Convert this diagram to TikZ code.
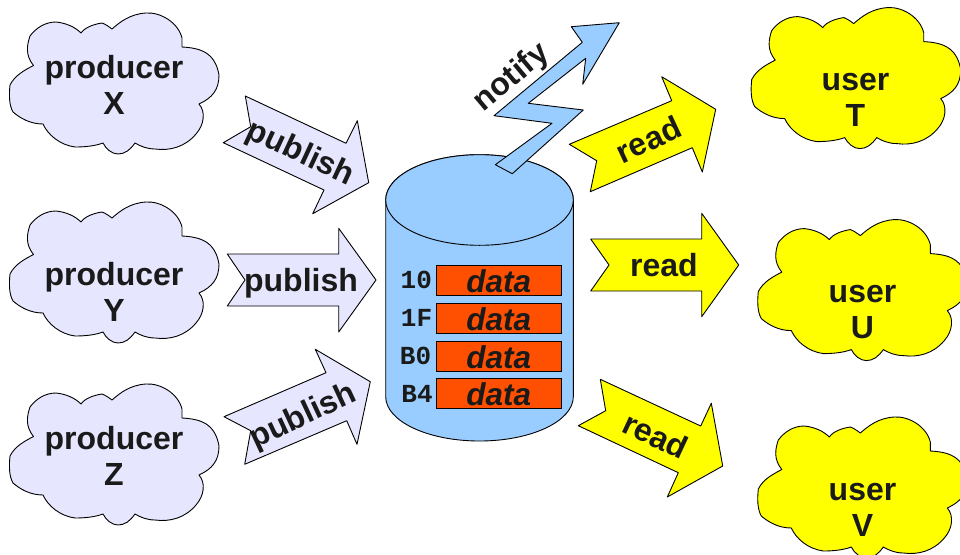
\documentclass[tikz,border=0pt]{standalone}
\usepackage{fontspec}
\setmainfont{Liberation Sans}
\setmonofont{Liberation Mono}
\usepackage{tikz}

\definecolor{prodblue}{HTML}{E6E6FF}
\definecolor{storeblue}{HTML}{99CCFF}
\definecolor{datared}{HTML}{FF4F00}
\definecolor{useryellow}{HTML}{FFFF00}
\definecolor{inkdark}{HTML}{1A1A1A}

\tikzset{
  prodshape/.style={draw=black,fill=prodblue,line width=0.9pt,line join=round},
  usershape/.style={draw=black,fill=useryellow,line width=0.9pt,line join=round},
  storeshape/.style={draw=black,fill=storeblue,line width=0.9pt,line join=round},
  bigtext/.style={text=inkdark,font=\fontsize{32}{36}\selectfont\bfseries,align=center,inner sep=0pt},
  keytext/.style={text=inkdark,font=\fontsize{26}{28}\selectfont\ttfamily\bfseries,inner sep=0pt},
  datatext/.style={text=inkdark,font=\fontsize{31.5}{36}\selectfont\bfseries\itshape,inner sep=0pt},
  databox/.style={draw=black,fill=datared,line width=0.9pt,minimum width=124.7pt,minimum height=30pt,inner sep=0pt},
}

\newcommand{\cloudoutline}{
  (33.5,65.5) .. controls (25,55) and (27,45) .. (30,36) .. controls (36,28) and (45,22) .. (56,22)
  .. controls (66,23) and (75,27) .. (81,33) .. controls (85,27) and (95,24) .. (102,23)
  .. controls (105,24) and (108,26) .. (112,29) .. controls (120,22) and (130,14) .. (146,13)
  .. controls (160,12) and (178,22) .. (182,38) .. controls (182,41) and (182,44) .. (182,47)
  .. controls (200,48) and (215,52) .. (219,75) .. controls (219,90) and (212,98) .. (199,104)
  .. controls (206,112) and (204,125) .. (196,134) .. controls (185,147) and (170,151) .. (155,149)
  .. controls (147,149) and (140,146) .. (135,143) .. controls (130,150) and (125,154) .. (118,154)
  .. controls (112,154) and (106,149) .. (103,143) .. controls (95,146) and (85,147) .. (75,147)
  .. controls (60,145) and (48,135) .. (43,124) .. controls (30,124) and (20,118) .. (13,112)
  .. controls (9,105) and (9,95) .. (10,85) .. controls (15,75) and (25,70) .. (33.5,65.5) -- cycle
}

\begin{document}
\begin{tikzpicture}[x=1pt,y=-1pt]
\useasboundingbox (0,0) rectangle (960,554);

% clouds
\draw[prodshape] \cloudoutline;
\draw[prodshape,shift={(0,189)}] \cloudoutline;
\draw[prodshape,shift={(0,371)}] \cloudoutline;
\draw[usershape,shift={(741.7,-5.4)}] \cloudoutline;
\draw[usershape,shift={(748.3,206.6)}] \cloudoutline;
\draw[usershape,shift={(748.3,404)}] \cloudoutline;

\node at (114,84.5) [bigtext] (prodx) {producer\\X};
\node at (114,291.5) [bigtext] (prody) {producer\\Y};
\node at (114,455.5) [bigtext] (prodz) {producer\\Z};
\node at (855.5,99.5) [bigtext] (usert) {user\\T};
\node at (862.5,312.5) [bigtext] (useru) {user\\U};
\node at (862.5,509.5) [bigtext] (userv) {user\\V};

% publish arrows
\draw[prodshape] (245.3,96) -- (346,143.3) -- (357.3,120.7) -- (368.7,182.7) -- (312.7,213.7) -- (324,190) -- (223.3,142.7) -- (250.7,126.7) -- cycle;
\draw[prodshape] (227.3,254) -- (338.7,254) -- (338.7,228.3) -- (376,280) -- (338.7,332) -- (338.7,306) -- (227.3,306) -- (245,280) -- cycle;
\draw[prodshape] (224,416.7) -- (326,372.7) -- (315.3,349.3) -- (370.3,381.7) -- (357,444.3) -- (346.7,420.7) -- (244.7,464.3) -- (250.7,430.7) -- cycle;

\node at (300,154) [bigtext,rotate=-25] (pub1) {publish};
\node at (301,283.5) [bigtext] (pub2) {publish};
\node at (303.5,417) [bigtext,rotate=25] (pub3) {publish};

% read arrows
\draw[usershape] (569.3,144.3) -- (671.7,100.7) -- (661.7,76.7) -- (715.7,109.3) -- (702.3,172) -- (692.3,147.7) -- (590.3,191.7) -- (596.7,160.7) -- cycle;
\draw[usershape] (590.7,239) -- (701.7,239) -- (701.7,213.3) -- (738.7,265) -- (701.7,316.7) -- (701.7,291) -- (590.7,291) -- (609,265) -- cycle;
\draw[usershape] (600.3,379.3) -- (700.7,426) -- (711.3,403.3) -- (722.7,466) -- (667.3,497) -- (678.3,472.7) -- (578.3,425.7) -- (605.7,410.7) -- cycle;

\node at (648.5,139.5) [bigtext,rotate=25] (read1) {read};
\node at (664,265.5) [bigtext] (read2) {read};
\node at (655.5,435.5) [bigtext,rotate=-25] (read3) {read};

% data store
\draw[storeshape] (385.7,200) -- (385.7,396.7) arc[start angle=180,end angle=360,x radius=93.8,y radius=-44.3] -- (573.3,200) arc[start angle=0,end angle=180,x radius=93.8,y radius=-45.3] -- cycle;
\draw[storeshape] (479.5,200) ellipse[x radius=93.8,y radius=45.3];

\node at (498.7,280.3) [databox] (row1) {};
\node at (498.7,318.3) [databox] (row2) {};
\node at (498.7,356.3) [databox] (row3) {};
\node at (498.7,393.7) [databox] (row4) {};

\node at ([yshift=-1pt]row1) [datatext] (data1) {data};
\node at ([yshift=-1pt]row2) [datatext] (data2) {data};
\node at ([yshift=-1pt]row3) [datatext] (data3) {data};
\node at ([yshift=-1pt]row4) [datatext] (data4) {data};

\node at (416.3,280.3) [keytext] (key1) {10};
\node at (416.5,318.3) [keytext] (key2) {1F};
\node at (415.5,356.3) [keytext] (key3) {B0};
\node at (417,394) [keytext] (key4) {B4};

% notify bolt
\draw[storeshape] (571.3,26.7) -- (619.3,22.7) -- (582.7,84.3) -- (585.7,58.3) -- (528.3,103.3) -- (583.3,110) -- (512.3,173.7) -- (495.3,164.7) -- (552,123.3) -- (494,115.7) -- (582.3,42.3) -- cycle;
\node at (512,78) [bigtext,rotate=40] (notify) {notify};
\end{tikzpicture}
\end{document}
